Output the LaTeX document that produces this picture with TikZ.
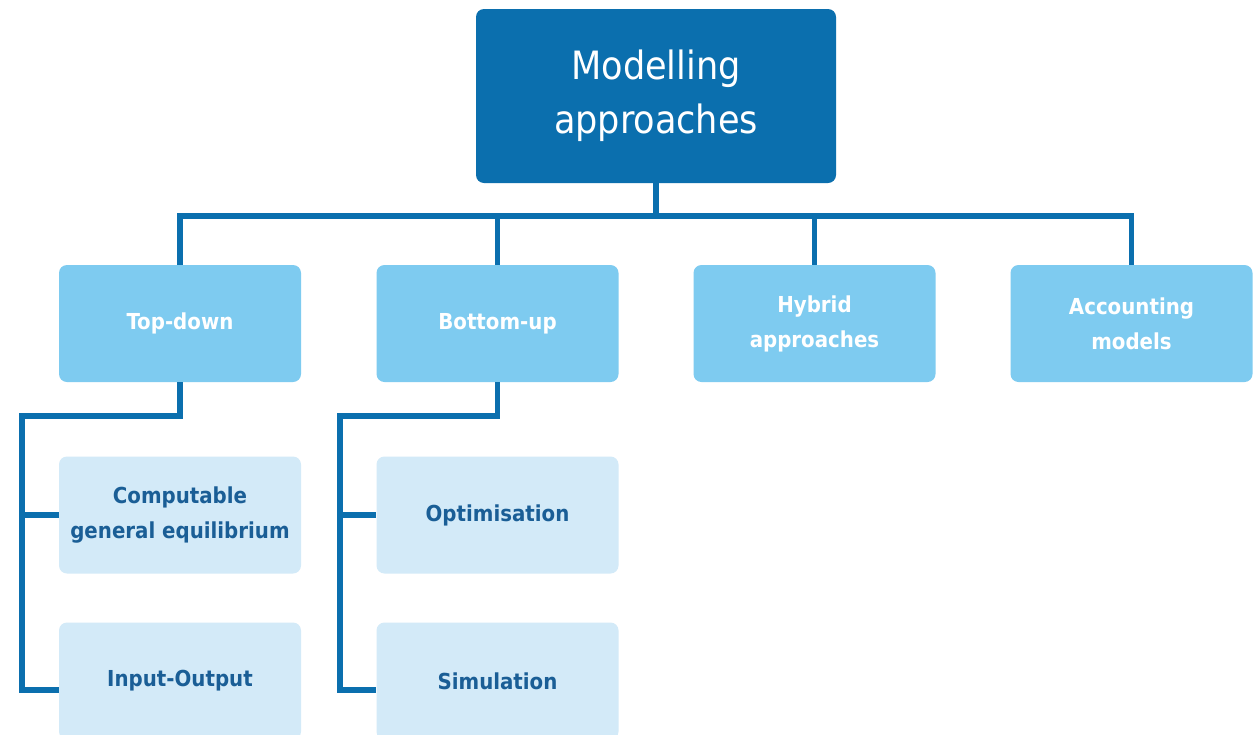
\documentclass[tikz,border=0pt]{standalone}
\usepackage{fontspec}
\setmainfont{DejaVu Sans Condensed}
\definecolor{darkb}{RGB}{11,111,174}
\definecolor{midb}{RGB}{126,203,240}
\definecolor{paleb}{RGB}{211,234,248}
\definecolor{textb}{RGB}{26,94,150}
\tikzset{
  conn/.style={draw=darkb, line width=5.5pt, line join=miter},
  topbox/.style={fill=darkb, rounded corners=8pt, minimum width=360pt, minimum height=174pt, text=white, align=center, font=\fontsize{39}{54}\selectfont, inner sep=0pt},
  lvtwo/.style={fill=midb, rounded corners=8pt, minimum width=242pt, minimum height=117pt, text=white, align=center, font=\bfseries\fontsize{22}{35}\selectfont, inner sep=0pt},
  lvthree/.style={fill=paleb, rounded corners=8pt, minimum width=242pt, minimum height=117pt, text=textb, align=center, font=\bfseries\fontsize{22}{35}\selectfont, inner sep=0pt}
}
\begin{document}
\begin{tikzpicture}[x=1pt, y=-1pt]
\clip (0,0) rectangle (1260,734);
\fill[white] (0,0) rectangle (1260,734);
\node[topbox] (top) at (656,96) {Modelling\\approaches};
\node[lvtwo] (td) at (180,323.5) {Top-down};
\node[lvtwo] (bu) at (497.5,323.5) {Bottom-up};
\node[lvtwo] (hy) at (814.5,323.5) {Hybrid\\approaches};
\node[lvtwo] (acc) at (1131.5,323.5) {Accounting\\models};
\node[lvthree] (cge) at (180,515) {Computable\\general equilibrium};
\node[lvthree] (io) at (180,681) {Input-Output};
\node[lvthree] (opt) at (497.5,515) {Optimisation};
\node[lvthree] (sim) at (497.5,681) {Simulation};
\coordinate (bus) at (656,216);
\coordinate (tdk) at (22,416);
\coordinate (buk) at (340,416);
\draw[conn] (top.south) -- (bus);
\draw[conn] (td.north) -- (td.north |- bus) -- (acc.north |- bus) -- (acc.north);
\draw[conn] (bu.north) -- (bu.north |- bus);
\draw[conn] (hy.north) -- (hy.north |- bus);
\draw[conn] (td.south) |- (tdk) |- ([yshift=-9pt]io.west);
\draw[conn] (tdk |- cge.west) -- (cge.west);
\draw[conn] (bu.south) |- (buk) |- ([yshift=-9pt]sim.west);
\draw[conn] (buk |- opt.west) -- (opt.west);
\end{tikzpicture}
\end{document}
